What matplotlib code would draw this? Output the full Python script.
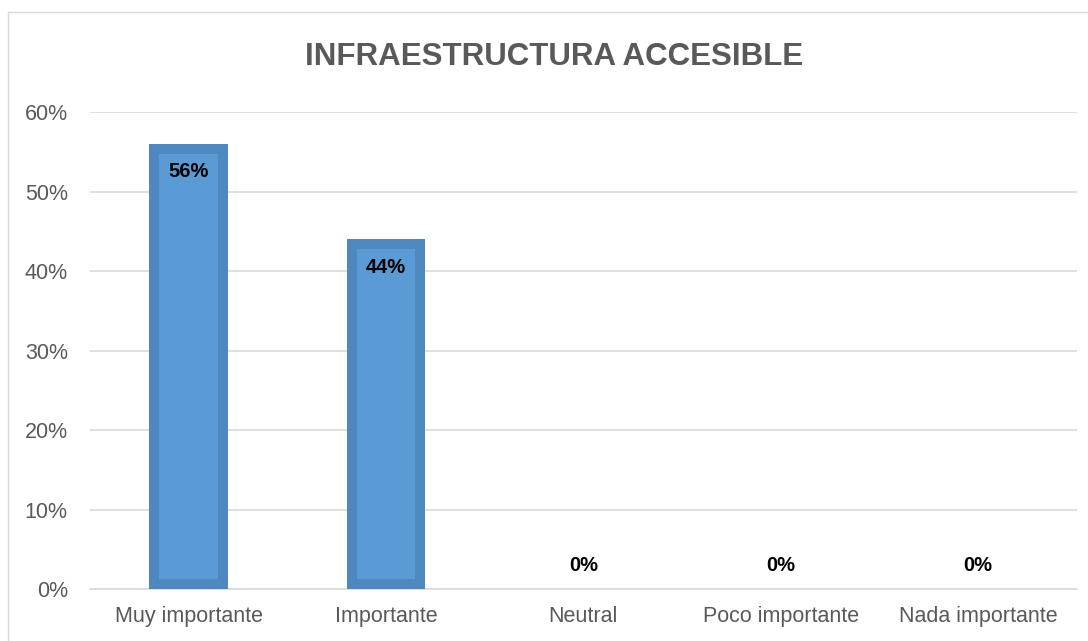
import matplotlib.pyplot as plt
from matplotlib.lines import Line2D
from matplotlib.ticker import PercentFormatter

plt.rcParams['font.family'] = ['Liberation Sans', 'DejaVu Sans']

categorias = ['Muy importante', 'Importante', 'Neutral', 'Poco importante', 'Nada importante']
valores = [0.56, 0.44, 0.0, 0.0, 0.0]
etiquetas = ['56%', '44%', '0%', '0%', '0%']

fig = plt.figure(figsize=(10.88, 6.41), dpi=100)
ax = fig.add_axes([0.0827, 0.081, 0.907, 0.744])

x = range(len(categorias))
bars = ax.bar(x, valores, width=0.4, color='#5b9bd5', edgecolor='#4f87bf',
              linewidth=14.4, zorder=3)
# stroke only inside the bar
for b in bars:
    b.set_clip_path(b)

for b, v, t in zip(bars, valores, etiquetas):
    cx = b.get_x() + b.get_width() / 2
    if v > 0:
        ax.annotate(t, (cx, v), xytext=(0, -20), textcoords='offset points',
                    ha='center', va='center', fontsize=14.5, fontweight='bold',
                    color='black', zorder=4)
    else:
        ax.annotate(t, (cx, v), xytext=(0, 17), textcoords='offset points',
                    ha='center', va='center', fontsize=14.5, fontweight='bold',
                    color='black', zorder=4)

ax.set_ylim(0, 0.6)
ax.set_xlim(-0.5, len(categorias) - 0.5)
ax.set_yticks([0, 0.1, 0.2, 0.3, 0.4, 0.5, 0.6])
ax.yaxis.set_major_formatter(PercentFormatter(1.0, decimals=0))
ax.set_xticks(list(x))
ax.set_xticklabels(categorias)
ax.tick_params(axis='both', length=0, labelsize=15.5, labelcolor='#595959')
ax.tick_params(axis='y', pad=16)
ax.tick_params(axis='x', pad=12)
ax.grid(axis='y', color='#d9d9d9', linewidth=1.2, zorder=0)
ax.set_axisbelow(True)
for s in ['top', 'right', 'left']:
    ax.spines[s].set_visible(False)
ax.spines['bottom'].set_color('#d9d9d9')
ax.spines['bottom'].set_linewidth(1.2)

fig.text(0.509, 0.911, 'INFRAESTRUCTURA ACCESIBLE', ha='center', va='center',
         fontsize=22.5, fontweight='bold', color='#595959')

# chart area border
fig.add_artist(Line2D([8 / 1088, 8 / 1088], [0, 1 - 12 / 641], color='#d9d9d9', linewidth=1))
fig.add_artist(Line2D([8 / 1088, 1], [1 - 12 / 641, 1 - 12 / 641], color='#d9d9d9', linewidth=1))

fig.savefig('out.png', dpi=100)
